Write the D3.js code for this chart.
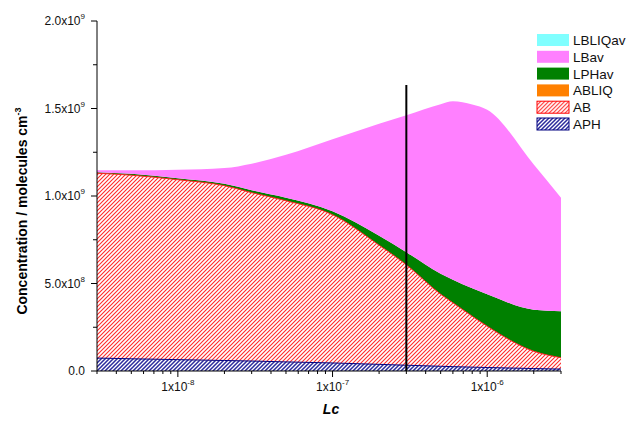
<!DOCTYPE html>
<html lang="en">
<head>
<meta charset="UTF-8">
<title>Concentration vs Lc</title>
<script src="https://d3js.org/d3.v7.min.js"></script>
<style>
  body { margin: 0; background: #fff; }
  svg { font-family: "Liberation Sans", Arial, sans-serif; }
</style>
</head>
<body>
<div id="chart"></div>
<script>
// x positions (Lc)
const lc = [3e-9, 5e-9, 1e-8, 2e-8, 3e-8, 5e-8, 1e-7, 2e-7, 3e-7, 5e-7, 6e-7, 8e-7, 1e-6, 2e-6, 3e-6];

// series values, molecules cm^-3
const APH     = [74e6, 70e6, 65e6, 60e6, 57e6, 52e6, 46e6, 38e6, 33e6, 27e6, 25e6, 22e6, 20e6, 14e6, 11e6];
const AB      = [1056e6, 1049e6, 1028e6, 999e6, 962e6, 921e6, 847e6, 681e6, 574e6, 412e6, 365e6, 291e6, 236e6, 99e6, 65e6];
const ABLIQ   = [0, 0, 0, 0, 0, 0, 0, 0, 0, 0, 0, 0, 0, 0, 0];
const LPHav   = [6e6, 8e6, 9e6, 11e6, 14e6, 17e6, 20e6, 54e6, 72e6, 117e6, 132e6, 160e6, 183e6, 237e6, 266e6];
const LBav    = [11e6, 20e6, 48e6, 90e6, 152e6, 246e6, 412e6, 640e6, 783e6, 969e6, 1020e6, 1050e6, 1054e6, 830e6, 648e6];
const LBLIQav = [0, 0, 0, 0, 0, 0, 0, 0, 0, 0, 0, 0, 0, 0, 0];

const yTicks = [0, 5e8, 1e9, 1.5e9, 2e9];
const xTicks = [1e-8, 1e-7, 1e-6];
const markerLc = 3e-7;

const W = 627, H = 424;
const margin = {left: 97, right: 66, top: 21, bottom: 53};

const svg = d3.select("#chart").append("svg")
  .attr("width", W).attr("height", H);

const defs = svg.append("defs");
// red hatch
const pr = defs.append("pattern").attr("id", "hatchRed")
  .attr("patternUnits", "userSpaceOnUse").attr("width", 4).attr("height", 4);
pr.append("rect").attr("width", 4).attr("height", 4).attr("fill", "#fff");
pr.append("path").attr("d", "M-1,1 l2,-2 M0,4 l4,-4 M3,5 l2,-2")
  .attr("stroke", "#ff2a2a").attr("stroke-width", 1.1);
// blue hatch
const pb = defs.append("pattern").attr("id", "hatchBlue")
  .attr("patternUnits", "userSpaceOnUse").attr("width", 4).attr("height", 4);
pb.append("rect").attr("width", 4).attr("height", 4).attr("fill", "#fff");
pb.append("path").attr("d", "M-1,1 l2,-2 M0,4 l4,-4 M3,5 l2,-2")
  .attr("stroke", "#2a2a9c").attr("stroke-width", 1.5);

const x = d3.scaleLog().domain([3e-9, 3e-6]).range([margin.left, W - margin.right]);
const y = d3.scaleLinear().domain([0, 2e9]).range([H - margin.bottom, margin.top]);

const keys = ["APH", "AB", "ABLIQ", "LPHav", "LBav", "LBLIQav"];
const series = {APH, AB, ABLIQ, LPHav, LBav, LBLIQav};
const rows = lc.map((v, i) => {
  const r = {lc: v};
  keys.forEach(k => r[k] = series[k][i]);
  return r;
});
const stacked = d3.stack().keys(keys)(rows);

const fills = {
  APH: "url(#hatchBlue)", AB: "url(#hatchRed)", ABLIQ: "#ff8000",
  LPHav: "#008000", LBav: "#ff80ff", LBLIQav: "#80ffff"
};

const area = d3.area()
  .curve(d3.curveMonotoneX)
  .x(d => x(d.data.lc))
  .y0(d => y(d[0]))
  .y1(d => y(d[1]));

svg.append("g").selectAll("path")
  .data(stacked)
  .join("path")
    .attr("d", area)
    .attr("fill", d => fills[d.key]);

// edge lines on hatched layers
const topLine = d3.line().curve(d3.curveMonotoneX)
  .x(d => x(d.data.lc)).y(d => y(d[1]));
svg.append("path").datum(stacked[1]).attr("d", topLine)
  .attr("fill", "none").attr("stroke", "#ff2020").attr("stroke-width", 1);
svg.append("path").datum(stacked[0]).attr("d", topLine)
  .attr("fill", "none").attr("stroke", "#000080").attr("stroke-width", 1);

// vertical marker
svg.append("line")
  .attr("x1", x(markerLc)).attr("x2", x(markerLc))
  .attr("y1", 85).attr("y2", y(0))
  .attr("stroke", "#000").attr("stroke-width", 2);

// y axis
const yAxis = svg.append("g").attr("transform", `translate(${margin.left},0)`);
yAxis.append("line").attr("y1", y(0)).attr("y2", y(2e9)).attr("stroke", "#000");
d3.range(0, 2e9 + 1, 2.5e8).forEach(v => {
  const major = v % 5e8 === 0;
  yAxis.append("line").attr("x1", major ? -6 : -4).attr("x2", 0)
    .attr("y1", y(v)).attr("y2", y(v)).attr("stroke", "#000");
});
yTicks.forEach(v => {
  const t = yAxis.append("text").attr("x", -12).attr("y", y(v) + 4)
    .attr("text-anchor", "end").attr("font-size", 12).attr("fill", "#111");
  if (v === 0) { t.text("0.0"); return; }
  const e = Math.floor(Math.log10(v));
  t.append("tspan").text((v / Math.pow(10, e)).toFixed(1) + "x10");
  t.append("tspan").attr("dy", -6).attr("font-size", 8).text(e);
});

// x axis
const xAxis = svg.append("g").attr("transform", `translate(0,${y(0)})`);
xAxis.append("line").attr("x1", x(3e-9)).attr("x2", x(3e-6)).attr("stroke", "#000");
[-9, -8, -7, -6].forEach(e => {
  d3.range(1, 10).forEach(m => {
    const v = m * Math.pow(10, e);
    if (v < 3e-9 * 0.999 || v > 3e-6 * 1.001) return;
    const major = m === 1;
    xAxis.append("line").attr("x1", x(v)).attr("x2", x(v))
      .attr("y1", 0).attr("y2", major ? 6 : 3).attr("stroke", "#000");
  });
});
xTicks.forEach(v => {
  const e = Math.round(Math.log10(v));
  const t = xAxis.append("text").attr("x", x(v)).attr("y", 20)
    .attr("text-anchor", "middle").attr("font-size", 12).attr("fill", "#111");
  t.append("tspan").text("1x10");
  t.append("tspan").attr("dy", -6).attr("font-size", 8).text(e);
});

// axis titles
svg.append("text").attr("x", (margin.left + W - margin.right) / 2 + 2).attr("y", 414)
  .attr("text-anchor", "middle").attr("font-size", 14)
  .attr("font-weight", "bold").attr("font-style", "italic").text("Lc");

const yl = svg.append("text")
  .attr("transform", `translate(27,${(y(0) + y(2e9)) / 2 + 15}) rotate(-90)`)
  .attr("text-anchor", "middle").attr("font-size", 14).attr("font-weight", "bold");
yl.append("tspan").text("Concentration / molecules cm");
yl.append("tspan").attr("dy", -6).attr("font-size", 9).text("-3");

// legend
const legendKeys = ["LBLIQav", "LBav", "LPHav", "ABLIQ", "AB", "APH"];
const strokes = {AB: "#ff0000", APH: "#000080"};
const lg = svg.append("g").attr("transform", "translate(537,34)");
legendKeys.forEach((k, i) => {
  const g = lg.append("g").attr("transform", `translate(0,${i * 16.8})`);
  g.append("rect").attr("width", 32).attr("height", 12)
    .attr("fill", fills[k])
    .attr("stroke", strokes[k] || "none").attr("stroke-width", 1);
  g.append("text").attr("x", 36).attr("y", 11).attr("font-size", 13.5)
    .attr("fill", "#111").text(k);
});
</script>
</body>
</html>
